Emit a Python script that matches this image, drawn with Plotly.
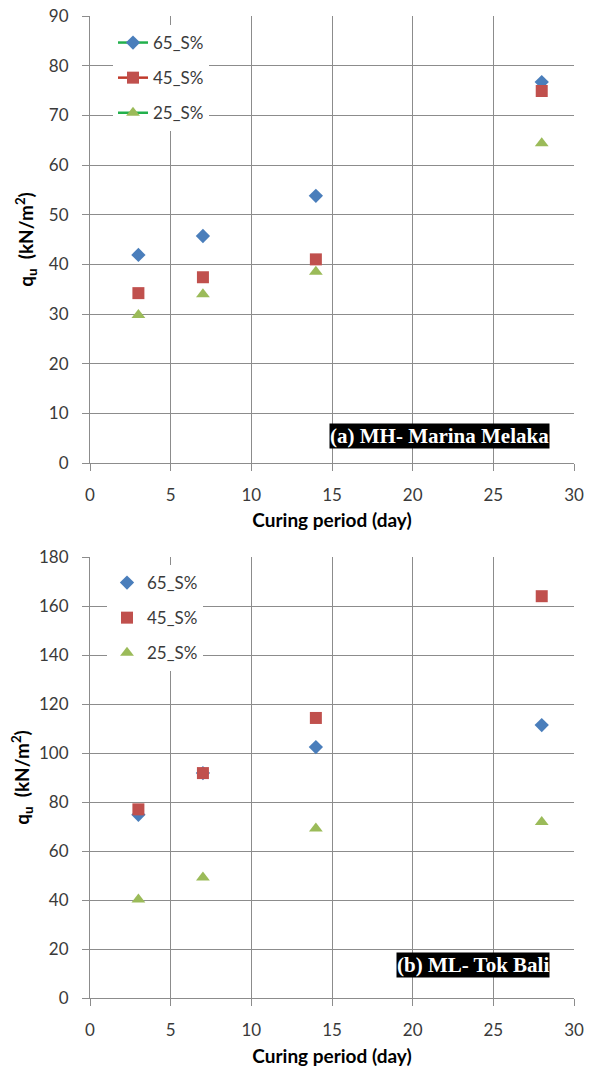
import plotly.graph_objects as go

days = [3, 7, 14, 28]
series_names = ["65_S%", "45_S%", "25_S%"]

# (a) MH- Marina Melaka
mh_65 = [41.9, 45.7, 53.8, 76.7]
mh_45 = [34.2, 37.4, 41.0, 74.9]
mh_25 = [29.8, 34.0, 38.5, 64.4]

# (b) ML- Tok Bali
ml_65 = [74.8, 91.8, 102.4, 111.4]
ml_45 = [77.0, 91.8, 114.3, 164.0]
ml_25 = [40.2, 49.2, 69.2, 71.8]

x_ticks = [0, 5, 10, 15, 20, 25, 30]
y_ticks_a = [0, 10, 20, 30, 40, 50, 60, 70, 80, 90]
y_ticks_b = [0, 20, 40, 60, 80, 100, 120, 140, 160, 180]

colors = ["#4A7EBB", "#C0504D", "#9BBB59"]
symbols = ["diamond", "square", "triangle-up"]
sizes = [11, 12, 12]
legend_line_colors = ["#22B04C", "#C0392B", "#22B04C"]

W, H = 592, 1069
FONT = "Lato, 'Open Sans', sans-serif"
GRID = "#8C8C8C"

fig = go.Figure()

top_data = [mh_65, mh_45, mh_25]
bot_data = [ml_65, ml_45, ml_25]

for i, name in enumerate(series_names):
    fig.add_trace(go.Scatter(
        x=days, y=top_data[i], mode="markers", name=name, showlegend=False,
        marker=dict(symbol=symbols[i], size=sizes[i], color=colors[i]),
        xaxis="x", yaxis="y", cliponaxis=False))
    # legend entry (a): line + marker
    fig.add_trace(go.Scatter(
        x=[None], y=[None], mode="lines+markers", name=name, legend="legend",
        legendgroup="a%d" % i,
        line=dict(color=legend_line_colors[i], width=2.5),
        marker=dict(symbol=symbols[i], size=sizes[i], color=colors[i]),
        xaxis="x", yaxis="y"))

for i, name in enumerate(series_names):
    fig.add_trace(go.Scatter(
        x=days, y=bot_data[i], mode="markers", name=name, legend="legend2",
        legendgroup="b%d" % i,
        marker=dict(symbol=symbols[i], size=sizes[i], color=colors[i]),
        xaxis="x2", yaxis="y2", cliponaxis=False))


def px_x(p):
    return p / W


def px_y(p):
    return 1 - p / H


axis_common = dict(
    showline=True, linecolor=GRID, linewidth=1,
    showgrid=True, gridcolor=GRID, gridwidth=1,
    ticks="outside", ticklen=7, tickcolor=GRID, tickwidth=1,
    tickfont=dict(family=FONT, size=17, color="#3A3A3A"),
    zeroline=False, mirror=False, automargin=False,
)

TITLE_FONT = dict(family=FONT, size=19, color="black")
xdom = [px_x(90), px_x(574)]

fig.update_layout(
    width=W, height=H,
    margin=dict(l=0, r=0, t=0, b=0, autoexpand=False),
    paper_bgcolor="white", plot_bgcolor="white",
    showlegend=True,
    xaxis=dict(domain=xdom, range=[0, 30], tickvals=x_ticks, anchor="y",
               title=dict(text="<b>Curing period (day)</b>", font=TITLE_FONT, standoff=9),
               ticklabelstandoff=10, **axis_common),
    yaxis=dict(domain=[px_y(463), px_y(16)], range=[0, 90], tickvals=y_ticks_a, anchor="x",
               title=dict(text="<b>q<sub>u</sub>  (kN/m<sup>2</sup>)</b>", font=TITLE_FONT, standoff=10),
               ticklabelstandoff=10, **axis_common),
    xaxis2=dict(domain=xdom, range=[0, 30], tickvals=x_ticks, anchor="y2",
                title=dict(text="<b>Curing period (day)</b>", font=TITLE_FONT, standoff=10),
                ticklabelstandoff=10, **axis_common),
    yaxis2=dict(domain=[px_y(998), px_y(557)], range=[0, 180], tickvals=y_ticks_b, anchor="x2",
                title=dict(text="<b>q<sub>u</sub>  (kN/m<sup>2</sup>)</b>", font=TITLE_FONT, standoff=4),
                ticklabelstandoff=10, **axis_common),
    legend=dict(x=px_x(113), y=px_y(25), xanchor="left", yanchor="top",
                bgcolor="white", traceorder="grouped", tracegroupgap=10,
                font=dict(family=FONT, size=17, color="#3A3A3A"),
                itemwidth=30),
    legend2=dict(x=px_x(107), y=px_y(565), xanchor="left", yanchor="top",
                 bgcolor="white", traceorder="grouped", tracegroupgap=10,
                 font=dict(family=FONT, size=17, color="#3A3A3A"),
                 itemwidth=30),
    annotations=[
        dict(text="<b>(a) MH- Marina Melaka</b>", xref="paper", yref="paper",
             x=px_x(550), y=px_y(436), xanchor="right", yanchor="middle",
             showarrow=False, bgcolor="black", borderpad=0,
             font=dict(family="'Liberation Serif', 'DejaVu Serif', serif", size=21, color="white")),
        dict(text="<b>(b) ML- Tok Bali</b>", xref="paper", yref="paper",
             x=px_x(550), y=px_y(965), xanchor="right", yanchor="middle",
             showarrow=False, bgcolor="black", borderpad=0,
             font=dict(family="'Liberation Serif', 'DejaVu Serif', serif", size=21, color="white")),
    ],
)

fig.write_html(
    "out.html",
    config={"displayModeBar": False},
    post_script="document.body.style.margin='0';document.body.style.overflow='hidden';",
)
